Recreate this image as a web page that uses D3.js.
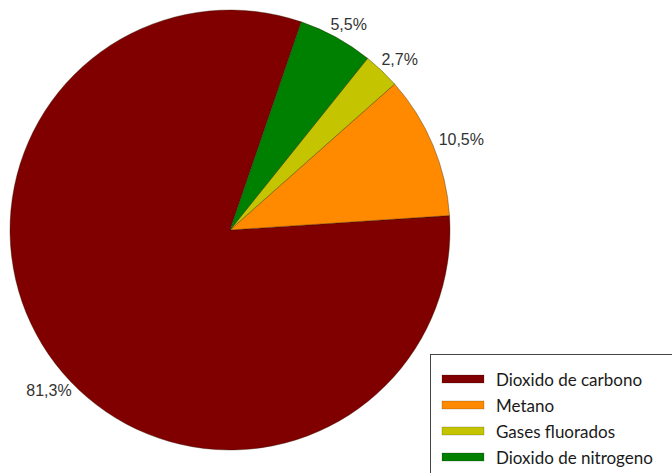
<!DOCTYPE html>
<html>
<head>
<meta charset="utf-8">
<script src="https://cdn.jsdelivr.net/npm/d3@7"></script>
<style>
  body { margin: 0; background: #fff; }
</style>
</head>
<body>
<div id="chart"></div>
<script>
const gases = ["Dioxido de carbono", "Metano", "Gases fluorados", "Dioxido de nitrogeno"]
const shares = [81.3, 10.5, 2.7, 5.5]
const labels = ["81,3%", "10,5%", "2,7%", "5,5%"]
const colors = ["#800000", "#ff8a00", "#c4c400", "#008000"]

const width = 672, height = 473
const cx = 230, cy = 230, radius = 220

const svg = d3.select("#chart").append("svg")
    .attr("width", width)
    .attr("height", height)

const data = gases.map((g, i) => ({name: g, value: shares[i], label: labels[i]}))

// slices run counter-clockwise, first slice starts a bit right of 12 o'clock
const start = 0.33
const pie = d3.pie().sort(null).value(d => d.value)
    .startAngle(start).endAngle(start - 2 * Math.PI)

const arc = d3.arc().innerRadius(0).outerRadius(radius)

const color = d3.scaleOrdinal().domain(gases).range(colors)

const g = svg.append("g").attr("transform", `translate(${cx},${cy})`)

const arcs = pie(data)

g.selectAll(".slice")
    .data(arcs)
    .join("path")
    .attr("class", "slice")
    .attr("d", arc)
    .attr("fill", d => color(d.data.name))
    .attr("stroke", "rgba(40,20,0,0.45)")
    .attr("stroke-width", 0.8)

// percentage labels just outside the rim
g.selectAll(".pct")
    .data(arcs)
    .join("text")
    .attr("class", "pct")
    .attr("font-family", "'Liberation Sans', Arial, sans-serif")
    .attr("font-size", 16)
    .attr("fill", "#333")
    .attr("text-anchor", "middle")
    .attr("dominant-baseline", "central")
    .text(d => d.data.label)
    .each(function(d) {
        const a = (d.startAngle + d.endAngle) / 2
        const s = Math.sin(a), c = -Math.cos(a)
        const w = this.getComputedTextLength()
        let x = (radius + 8) * s + s * w / 2
        let y = (radius + 8) * c + c * 7
        if (d.data.value > 50) { x += 18; y += 18 }
        d3.select(this).attr("x", x).attr("y", y)
    })

// legend
const legend = svg.append("g").attr("transform", "translate(430,354)")

legend.append("rect")
    .attr("x", 0.5).attr("y", 0.5)
    .attr("width", 260).attr("height", 140)
    .attr("fill", "#fff")
    .attr("stroke", "#444")
    .attr("stroke-width", 1)

const rows = legend.selectAll(".row")
    .data(gases)
    .join("g")
    .attr("class", "row")
    .attr("transform", (d, i) => `translate(0,${25 + i * 26})`)

rows.append("rect")
    .attr("x", 12).attr("y", -4)
    .attr("width", 42).attr("height", 8)
    .attr("fill", d => color(d))
    .attr("stroke", "rgba(0,0,0,0.3)")
    .attr("stroke-width", 0.6)

rows.append("text")
    .attr("x", 66)
    .attr("dominant-baseline", "central")
    .attr("font-family", "Lato, Carlito, sans-serif")
    .attr("font-size", 17)
    .attr("fill", "#1a1a1a")
    .text(d => d)
</script>
</body>
</html>
